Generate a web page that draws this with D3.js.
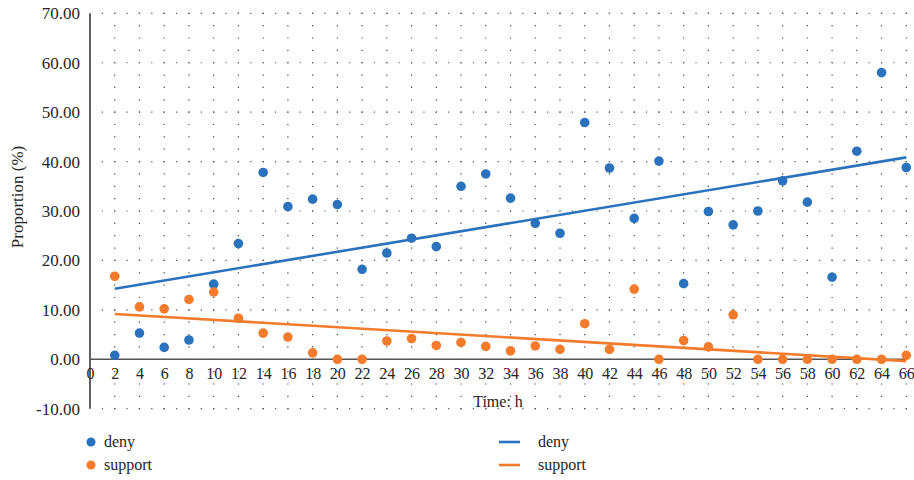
<!DOCTYPE html>
<html>
<head>
<meta charset="utf-8">
<script src="https://cdn.jsdelivr.net/npm/d3@7"></script>
<style>
  html, body { margin: 0; padding: 0; background: #fff; }
  svg { display: block; }
  svg text { font-family: "Liberation Serif", "Times New Roman", "DejaVu Serif", serif !important; fill: #262626; }
</style>
</head>
<body>
<svg id="chart" width="914" height="480"></svg>
<script>
// ---- data ----
const times = [2,4,6,8,10,12,14,16,18,20,22,24,26,28,30,32,34,36,38,40,42,44,46,48,50,52,54,56,58,60,62,64,66];
const deny = [0.8,5.3,2.4,3.9,15.2,23.4,37.8,30.9,32.4,31.3,18.2,21.5,24.5,22.8,35.0,37.5,32.6,27.5,25.5,47.9,38.7,28.5,40.1,15.3,29.9,27.2,30.0,36.1,31.8,16.6,42.1,58.0,38.8];
const support = [16.8,10.6,10.2,12.1,13.6,8.3,5.3,4.5,1.3,0.0,0.0,3.7,4.2,2.8,3.4,2.6,1.7,2.7,2.0,7.2,2.0,14.2,0.0,3.8,2.5,9.0,0.0,0.0,0.0,0.0,0.0,0.0,0.8];
const seriesNames = ["deny", "support"];
const xTicks = d3.range(0, 67, 2);
const yTicks = [-10, 0, 10, 20, 30, 40, 50, 60, 70];
const xTitle = "Time: h";
const yTitle = "Proportion (%)";

const colors = { deny: "#2a72bd", support: "#f47b2b" };
const FONT = '"Liberation Serif", "Times New Roman", "DejaVu Serif", serif';

const svg = d3.select("#chart");
const x = d3.scaleLinear().domain([0, 66]).range([90, 906.3]);
const y = d3.scaleLinear().domain([-10, 70]).range([408.7, 13.3]);

// ---- grid ----
const grid = svg.append("g");
const minorStep = y(67.5) - y(70);
grid.selectAll("line.v").data(xTicks.filter(d => d > 0)).join("line")
  .attr("x1", d => x(d)).attr("x2", d => x(d))
  .attr("y1", y(70) - 0.6).attr("y2", y(-10) + 1)
  .attr("stroke", "#444").attr("stroke-width", 1.2)
  .attr("stroke-dasharray", `1.2,${minorStep - 1.2}`);
const hStep = x(1) - x(0);
grid.selectAll("line.h").data(yTicks.filter(d => d !== 0)).join("line")
  .attr("x1", x(0) + hStep - 0.6).attr("x2", x(66) + 1)
  .attr("y1", d => y(d)).attr("y2", d => y(d))
  .attr("stroke", "#555").attr("stroke-width", 1.2)
  .attr("stroke-dasharray", `1.2,${hStep - 1.2}`);

// ---- axes ----
svg.append("line")
  .attr("x1", x(0)).attr("x2", x(0)).attr("y1", y(70)).attr("y2", y(-10))
  .attr("stroke", "#3a3a3a").attr("stroke-width", 1.6);
svg.append("line")
  .attr("x1", x(0)).attr("x2", x(66)).attr("y1", y(0)).attr("y2", y(0))
  .attr("stroke", "#555").attr("stroke-width", 1.4);

const fmtY = d => d3.format(".2f")(d).replace("\u2212", "-");
const yAxis = d3.axisLeft(y).tickValues(yTicks).tickFormat(fmtY).tickSize(0).tickPadding(10);
const gy = svg.append("g").attr("transform", `translate(${x(0)},0)`).call(yAxis);
gy.attr("font-family", FONT);
gy.select(".domain").remove();
gy.selectAll("text").attr("font-size", 17).attr("fill", "#262626");

const xAxis = d3.axisBottom(x).tickValues(xTicks).tickFormat(d3.format("d")).tickSize(0).tickPadding(8);
const gx = svg.append("g").attr("transform", `translate(0,${y(0)})`).call(xAxis);
gx.attr("font-family", FONT);
gx.select(".domain").remove();
gx.selectAll("text").attr("font-size", 16).attr("fill", "#262626");

// titles
svg.append("text").attr("x", 498).attr("y", 407).attr("text-anchor", "middle")
  .attr("font-family", FONT).attr("font-size", 16).text(xTitle);
svg.append("text").attr("transform", "translate(23,197) rotate(-90)").attr("text-anchor", "middle")
  .attr("font-family", FONT).attr("font-size", 17).text(yTitle);

// ---- trend lines (least squares) ----
function fit(xs, ys) {
  const mx = d3.mean(xs), my = d3.mean(ys);
  let num = 0, den = 0;
  xs.forEach((xi, i) => { num += (xi - mx) * (ys[i] - my); den += (xi - mx) ** 2; });
  const b = num / den;
  return { a: my - b * mx, b };
}
const seriesData = { deny, support };
seriesNames.forEach(name => {
  const f = fit(times, seriesData[name]);
  const x0 = d3.min(times), x1 = d3.max(times);
  svg.append("line")
    .attr("x1", x(x0)).attr("y1", y(f.a + f.b * x0))
    .attr("x2", x(x1)).attr("y2", y(f.a + f.b * x1))
    .attr("stroke", colors[name]).attr("stroke-width", 2.6);
});

// ---- points ----
seriesNames.forEach(name => {
  svg.append("g").selectAll("circle").data(times.map((t, i) => [t, seriesData[name][i]])).join("circle")
    .attr("cx", d => x(d[0])).attr("cy", d => y(d[1])).attr("r", 4.8)
    .attr("fill", colors[name]);
});

// ---- legend ----
const leg = svg.append("g").attr("font-family", FONT);
seriesNames.forEach((name, i) => {
  const ly = 442 + i * 23;
  leg.append("circle").attr("cx", 91).attr("cy", ly).attr("r", 4.5).attr("fill", colors[name]);
  leg.append("text").attr("x", 104).attr("y", ly + 5).attr("font-size", 16).text(name);
  leg.append("line").attr("x1", 499).attr("x2", 520).attr("y1", ly).attr("y2", ly)
    .attr("stroke", colors[name]).attr("stroke-width", 2.6);
  leg.append("text").attr("x", 538).attr("y", ly + 5).attr("font-size", 16).text(name);
});
</script>
</body>
</html>
